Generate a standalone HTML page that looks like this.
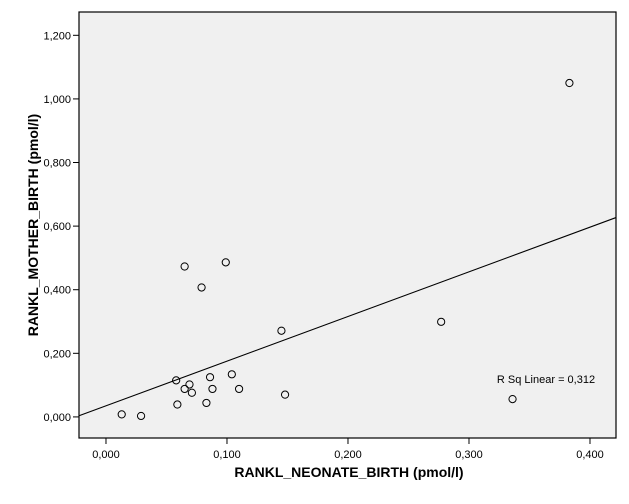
<!DOCTYPE html>
<html><head><meta charset="utf-8"><style>
body{margin:0;background:#fff;}
svg{display:block;font-family:"Liberation Sans",Arial,sans-serif;}
</style></head><body>
<svg id="chart" width="629" height="504">
<rect x="79" y="12" width="537" height="426" fill="#f0f0f0" stroke="#000" stroke-width="1.2"/>
<g id="axes"></g>
<g id="marks"></g>
<text x="546" y="383" font-size="11" text-anchor="middle" fill="#000">R Sq Linear = 0,312</text>
<text x="349" y="477" font-size="14" font-weight="bold" text-anchor="middle">RANKL_NEONATE_BIRTH (pmol/l)</text>
<text transform="translate(38,225) rotate(-90)" font-size="14" font-weight="bold" text-anchor="middle">RANKL_MOTHER_BIRTH (pmol/l)</text>
</svg>
<script>
const xValues=[0.065,0.099,0.079,0.145,0.058,0.086,0.104,0.069,0.065,0.071,0.088,0.110,0.059,0.083,0.148,0.029,0.013,0.277,0.336,0.383];
const yValues=[0.473,0.486,0.407,0.271,0.115,0.125,0.134,0.102,0.088,0.076,0.088,0.088,0.039,0.044,0.070,0.003,0.008,0.299,0.056,1.050];
const xTicks=[0,0.1,0.2,0.3,0.4];
const yTicks=[0,0.2,0.4,0.6,0.8,1.0,1.2];
const X0=79,X1=616,Y0=438,Y1=12;
const xMin=-0.0223,xMax=0.4215,yMin=-0.0663,yMax=1.2733;
function sx(v){return X0+(v-xMin)/(xMax-xMin)*(X1-X0);}
function sy(v){return Y0-(v-yMin)/(yMax-yMin)*(Y0-Y1);}
const NS="http://www.w3.org/2000/svg";
const axes=document.getElementById('axes'),marks=document.getElementById('marks');
function fmt(v){return v.toFixed(3).replace('.',',');}
xTicks.forEach(t=>{
 const l=document.createElementNS(NS,'line');
 
 
 l.setAttribute('x1',sx(t));l.setAttribute('x2',sx(t));l.setAttribute('y1',Y0);l.setAttribute('y2',Y0+6);l.setAttribute('stroke','#000');
 axes.appendChild(l);
 const tx=document.createElementNS(NS,'text');
 
 
 tx.setAttribute('x',sx(t));tx.setAttribute('y',Y0+20);tx.setAttribute('font-size','11');tx.setAttribute('text-anchor','middle');
 tx.textContent=fmt(t);axes.appendChild(tx);
});
yTicks.forEach(t=>{
 const l=document.createElementNS(NS,'line');
 
 
 l.setAttribute('x1',X0-6);l.setAttribute('x2',X0);l.setAttribute('y1',sy(t));l.setAttribute('y2',sy(t));l.setAttribute('stroke','#000');
 axes.appendChild(l);
 const tx=document.createElementNS(NS,'text');
 
 
 tx.setAttribute('x',X0-8);tx.setAttribute('y',sy(t)+4);tx.setAttribute('font-size','11');tx.setAttribute('text-anchor','end');
 tx.textContent=fmt(t);axes.appendChild(tx);
});
// linear fit
const n=xValues.length;
const mx=xValues.reduce((a,b)=>a+b,0)/n,my=yValues.reduce((a,b)=>a+b,0)/n;
let sxy=0,sxx=0;for(let i=0;i<n;i++){sxy+=(xValues[i]-mx)*(yValues[i]-my);sxx+=(xValues[i]-mx)**2;}
const slope=sxy/sxx,icpt=my-slope*mx;
const fl=document.createElementNS(NS,'line');


fl.setAttribute('x1',sx(xMin));fl.setAttribute('y1',sy(icpt+slope*xMin));fl.setAttribute('x2',sx(xMax));fl.setAttribute('y2',sy(icpt+slope*xMax));
fl.setAttribute('stroke','#000');fl.setAttribute('stroke-width','1.1');
marks.appendChild(fl);
for(let i=0;i<n;i++){
 const c=document.createElementNS(NS,'circle');
 
 
 c.setAttribute('cx',sx(xValues[i]));c.setAttribute('cy',sy(yValues[i]));c.setAttribute('r','3.6');
 c.setAttribute('fill','none');c.setAttribute('stroke','#000');c.setAttribute('stroke-width','1');
 marks.appendChild(c);
}
</script>
</body></html>
